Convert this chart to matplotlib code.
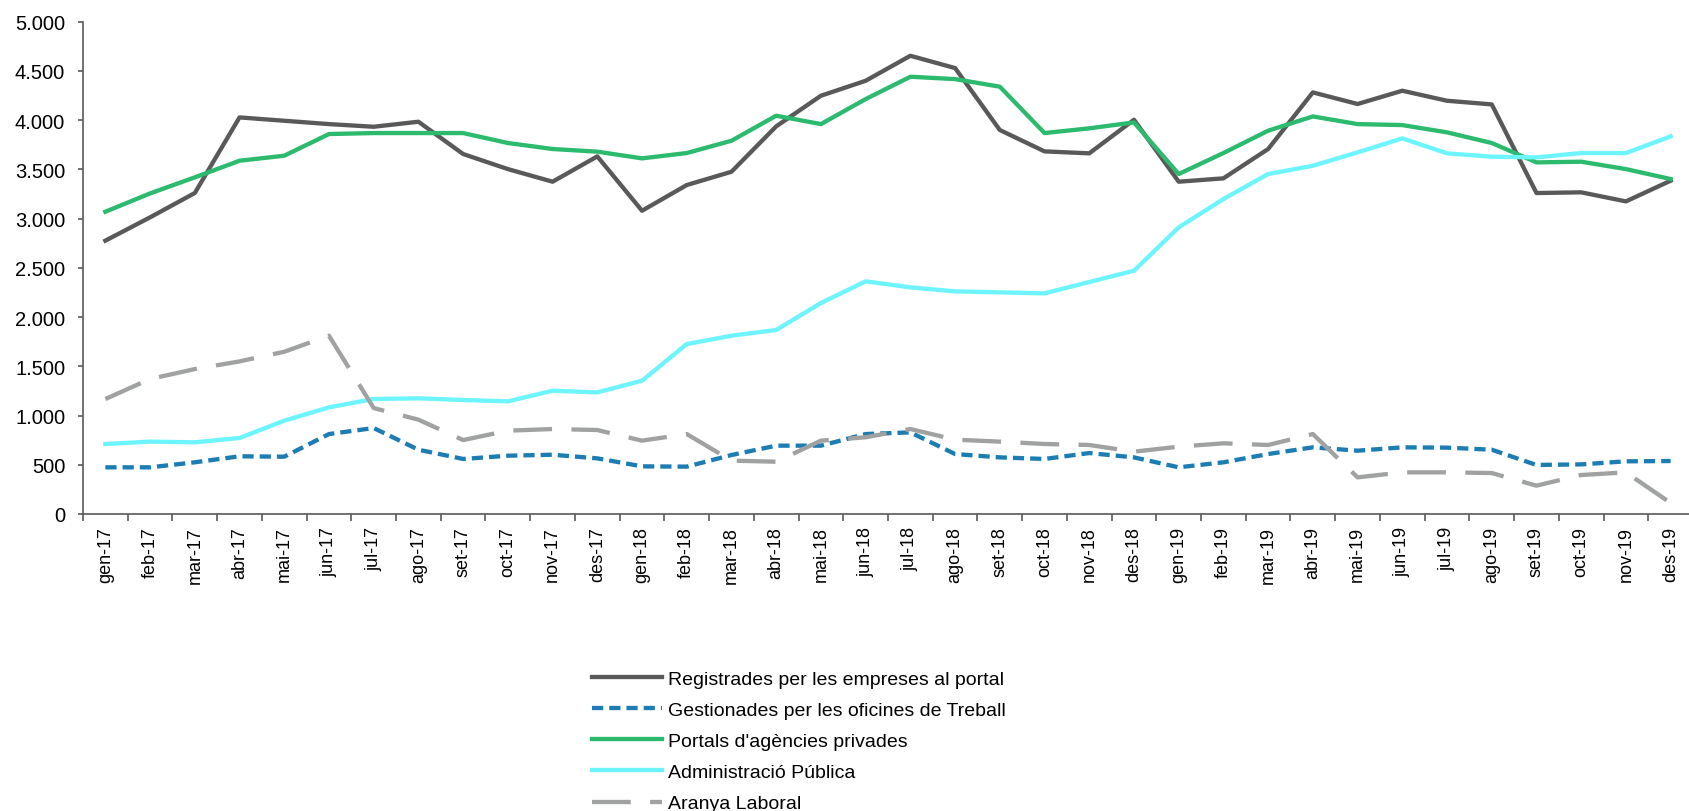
import matplotlib
matplotlib.use("Agg")
from matplotlib import pyplot as plt
from matplotlib.ticker import FuncFormatter

plt.rcParams['font.family'] = ['Liberation Sans', 'DejaVu Sans']

# months, gen-17 .. des-19
months = ['gen-17', 'feb-17', 'mar-17', 'abr-17', 'mai-17', 'jun-17', 'jul-17', 'ago-17', 'set-17', 'oct-17', 'nov-17', 'des-17',
          'gen-18', 'feb-18', 'mar-18', 'abr-18', 'mai-18', 'jun-18', 'jul-18', 'ago-18', 'set-18', 'oct-18', 'nov-18', 'des-18',
          'gen-19', 'feb-19', 'mar-19', 'abr-19', 'mai-19', 'jun-19', 'jul-19', 'ago-19', 'set-19', 'oct-19', 'nov-19', 'des-19']

registrades = [2776, 3013, 3260, 4028, 3994, 3960, 3933, 3984, 3656, 3503, 3375, 3632,
               3080, 3341, 3476, 3937, 4248, 4400, 4654, 4529, 3900, 3683, 3663, 4004,
               3375, 3409, 3707, 4282, 4164, 4299, 4197, 4160, 3260, 3267, 3175, 3385]

gestionades = [474, 474, 525, 586, 582, 812, 873, 653, 559, 592, 602, 565,
               484, 481, 599, 694, 694, 812, 829, 609, 575, 559, 619, 575,
               474, 525, 609, 677, 643, 677, 674, 653, 498, 504, 535, 538]

portals = [3070, 3256, 3419, 3588, 3639, 3859, 3869, 3869, 3869, 3768, 3707, 3680,
           3612, 3666, 3791, 4045, 3960, 4214, 4441, 4417, 4340, 3869, 3917, 3977,
           3453, 3666, 3893, 4038, 3960, 3950, 3876, 3768, 3571, 3578, 3503, 3402]

administracio = [711, 735, 728, 772, 948, 1083, 1168, 1175, 1158, 1144, 1252, 1235,
                 1354, 1726, 1811, 1869, 2143, 2363, 2302, 2261, 2251, 2241, 2356, 2471,
                 2911, 3199, 3453, 3537, 3673, 3815, 3663, 3629, 3622, 3666, 3666, 3835]

aranya = [1168, 1371, 1472, 1550, 1648, 1811, 1076, 958, 751, 846, 863, 853,
          745, 812, 542, 531, 745, 779, 863, 755, 735, 711, 701, 633,
          684, 718, 701, 812, 372, 423, 423, 416, 288, 396, 423, 112]

fig = plt.figure(figsize=(16.9, 8.12), dpi=100)
ax = fig.add_axes([83 / 1690, 1 - 515 / 812, (1693 - 83) / 1690, (515 - 22.7) / 812])

x = list(range(len(months)))
lw = 3.1
ax.plot(x, registrades, color='#595959', lw=lw, label='Registrades per les empreses al portal')
ax.plot(x, gestionades, color='#1B7DB4', lw=lw, dashes=(2.6, 1.4), label='Gestionades per les oficines de Treball')
ax.plot(x, portals, color='#2BBA6E', lw=lw, label="Portals d'agències privades")
ax.plot(x, administracio, color='#6CF4FF', lw=lw, label='Administració Pública')
ax.plot(x, aranya, color='#A0A2A2', lw=lw, dashes=(9, 4.5), label='Aranya Laboral')

ax.set_ylim(0, 5000)
ax.set_yticks(range(0, 5001, 500))
ax.yaxis.set_major_formatter(FuncFormatter(lambda v, p: '{:,.0f}'.format(v).replace(',', '.')))
ax.set_xlim(-0.5, len(months) - 0.5)
ax.set_xticks([i - 0.5 for i in x] + [len(months) - 0.5])
ax.set_xticklabels([])
ax.set_xticks(x, minor=True)
ax.set_xticklabels(months, minor=True, rotation=90)
ax.tick_params(axis='x', which='minor', length=0, pad=8.5, labelsize=13)
ax.tick_params(axis='x', which='major', length=4.8, width=1.2, color='#595959')
ax.tick_params(axis='y', length=3.8, width=1.2, color='#595959', labelsize=14.5, pad=9)

for s in ['top', 'right']:
    ax.spines[s].set_visible(False)
for s in ['left', 'bottom']:
    ax.spines[s].set_color('#595959')
    ax.spines[s].set_linewidth(1.2)

fig.legend(loc='upper left', bbox_to_anchor=(592 / 1690, 1 - 671 / 812), frameon=False,
           fontsize=14, handlelength=3.6, handletextpad=0.3, labelspacing=0.7,
           borderpad=0, borderaxespad=0)

plt.savefig('out.png', dpi=100)
